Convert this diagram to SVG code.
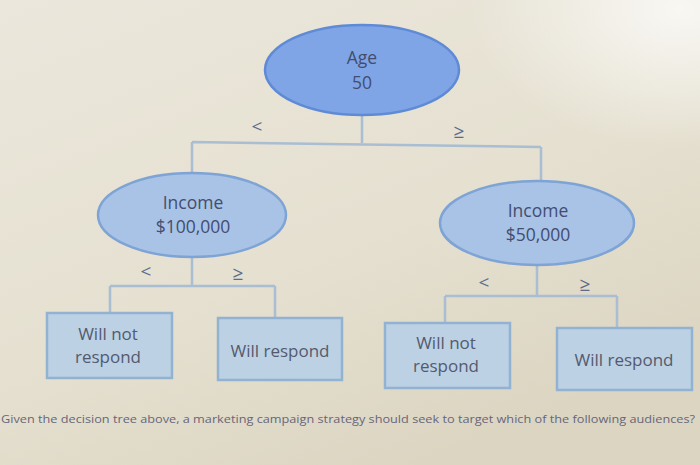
<svg xmlns="http://www.w3.org/2000/svg" width="700" height="465" viewBox="0 0 700 465">
<defs>
<linearGradient id="bg" x1="0" y1="0" x2="0.6" y2="1">
<stop offset="0" stop-color="#ebe7dc"/>
<stop offset="0.6" stop-color="#e5e0d0"/>
<stop offset="1" stop-color="#dcd5c2"/>
</linearGradient>
<radialGradient id="glow" cx="0.97" cy="0.02" r="0.3">
<stop offset="0" stop-color="#f8f7f3"/>
<stop offset="1" stop-color="#f8f7f3" stop-opacity="0"/>
</radialGradient>
</defs>
<style>
.ln{stroke:#a9bdd3;stroke-width:2.5;fill:none}
.root{fill:#7fa5e6;stroke:#5f8bd6;stroke-width:2.5}
.mid{fill:#a8c3e6;stroke:#7ea3d5;stroke-width:2.5}
.box{fill:#bcd1e4;stroke:#92b2d1;stroke-width:2.5}
.t{font-family:"Open Sans",sans-serif;font-size:17.5px;text-anchor:middle;fill:#434d70}
.bt{font-family:"Open Sans",sans-serif;font-size:17px;text-anchor:middle;fill:#545a6e}
.op{font-family:"Open Sans",sans-serif;font-size:19px;text-anchor:middle;fill:#5a6b8c}
.q{font-family:"Open Sans",sans-serif;font-size:11px;fill:#66667a}
</style>
<rect width="700" height="465" fill="url(#bg)"/>
<rect width="700" height="465" fill="url(#glow)"/>
<g id="connectors">
<path class="ln" d="M362 115 V143 M192 142 L541 147 M192 142 V174 M541 147 V182"/>
<path class="ln" d="M192 257 V286 M110 286 H275 M110 286 V313 M275 286 V318"/>
<path class="ln" d="M537 265 V296 M445 296 H617 M445 296 V323 M617 296 V328"/>
<text class="op" x="257" y="133">&lt;</text>
<text class="op" x="459" y="138">≥</text>
<text class="op" x="146" y="278">&lt;</text>
<text class="op" x="238" y="280">≥</text>
<text class="op" x="484" y="289">&lt;</text>
<text class="op" x="585" y="291">≥</text>
</g>
<g id="root">
<ellipse class="root" cx="362" cy="70" rx="97" ry="45"/>
<text class="t" x="362" y="64">Age</text>
<text class="t" x="362" y="89">50</text>
</g>
<g id="income100">
<ellipse class="mid" cx="192" cy="215" rx="94" ry="42"/>
<text class="t" x="193" y="209">Income</text>
<text class="t" x="193" y="233">$100,000</text>
</g>
<g id="income50">
<ellipse class="mid" cx="537" cy="223" rx="97" ry="42"/>
<text class="t" x="538" y="217">Income</text>
<text class="t" x="538" y="241">$50,000</text>
</g>
<g id="leaf1">
<rect class="box" x="47" y="313" width="125" height="65"/>
<text class="bt" x="108" y="340">Will not</text>
<text class="bt" x="108" y="363">respond</text>
</g>
<g id="leaf2">
<rect class="box" x="218" y="318" width="124" height="62"/>
<text class="bt" x="280" y="357">Will respond</text>
</g>
<g id="leaf3">
<rect class="box" x="385" y="323" width="125" height="65"/>
<text class="bt" x="446" y="349">Will not</text>
<text class="bt" x="446" y="372">respond</text>
</g>
<g id="leaf4">
<rect class="box" x="557" y="328" width="135" height="62"/>
<text class="bt" x="624" y="366">Will respond</text>
</g>
<text class="q" x="1" y="423" textLength="694" lengthAdjust="spacingAndGlyphs">Given the decision tree above, a marketing campaign strategy should seek to target which of the following audiences?</text>
</svg>
